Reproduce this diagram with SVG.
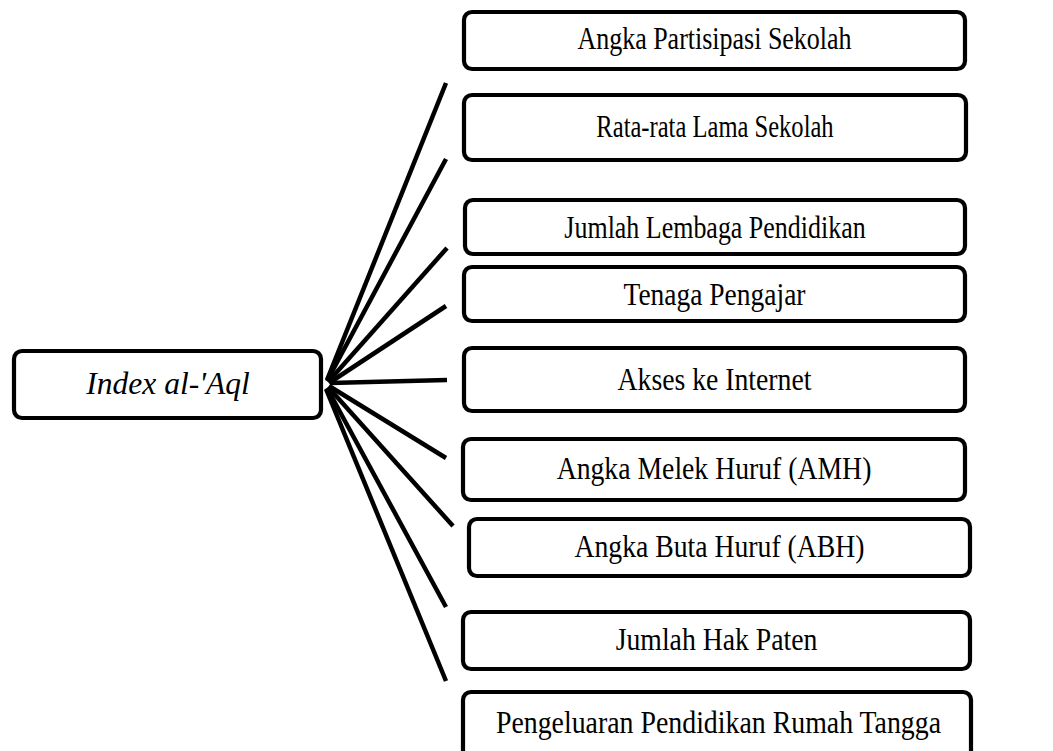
<svg xmlns="http://www.w3.org/2000/svg" width="1053" height="751" viewBox="0 0 1053 751">
<style>
.box{fill:#fff;stroke:#000;stroke-width:4.2}
.lbl{font-family:"Liberation Serif","Times New Roman",serif;font-size:31.5px;fill:#000;text-anchor:middle}
.it{font-style:italic}
.conn line{stroke:#000;stroke-width:4.5}
</style>
<rect width="1053" height="751" fill="#fff"/>
<g id="connectors" class="conn">
<line x1="327" y1="380" x2="446" y2="83"/>
<line x1="327" y1="381" x2="446" y2="159"/>
<line x1="328" y1="382" x2="447" y2="248"/>
<line x1="329" y1="383" x2="446" y2="306"/>
<line x1="330" y1="383" x2="447" y2="380"/>
<line x1="329" y1="386" x2="446" y2="458"/>
<line x1="328" y1="387" x2="453" y2="526"/>
<line x1="327" y1="388" x2="446" y2="607"/>
<line x1="326" y1="389" x2="446" y2="681"/>
</g>
<g id="root"><rect class="box" x="14" y="351" width="307" height="67" rx="8"/><text class="lbl it" x="168" y="394">Index al-'Aql</text></g>
<g id="n1"><rect class="box" x="464" y="12" width="501" height="57" rx="8"/><text class="lbl" transform="translate(714.5 49) scale(0.825 1)">Angka Partisipasi Sekolah</text></g>
<g id="n2"><rect class="box" x="464" y="95" width="502" height="65" rx="8"/><text class="lbl" transform="translate(715 137) scale(0.78 1)">Rata-rata Lama Sekolah</text></g>
<g id="n3"><rect class="box" x="465" y="200" width="500" height="54" rx="8"/><text class="lbl" transform="translate(715 238) scale(0.824 1)">Jumlah Lembaga Pendidikan</text></g>
<g id="n4"><rect class="box" x="464" y="267" width="501" height="54" rx="8"/><text class="lbl" transform="translate(714.5 305) scale(0.873 1)">Tenaga Pengajar</text></g>
<g id="n5"><rect class="box" x="464" y="348" width="501" height="63" rx="8"/><text class="lbl" transform="translate(714.5 390) scale(0.88 1)">Akses ke Internet</text></g>
<g id="n6"><rect class="box" x="463" y="439" width="502" height="61" rx="8"/><text class="lbl" transform="translate(714 479) scale(0.88 1)">Angka Melek Huruf (AMH)</text></g>
<g id="n7"><rect class="box" x="469" y="519" width="501" height="57" rx="8"/><text class="lbl" transform="translate(719.5 557) scale(0.88 1)">Angka Buta Huruf (ABH)</text></g>
<g id="n8"><rect class="box" x="463" y="612" width="507" height="57" rx="8"/><text class="lbl" transform="translate(716.5 650) scale(0.88 1)">Jumlah Hak Paten</text></g>
<g id="n9"><rect class="box" x="463" y="692" width="508" height="80" rx="8"/><text class="lbl" transform="translate(718.5 733) scale(0.884 1)">Pengeluaran Pendidikan Rumah Tangga</text></g>
</svg>
